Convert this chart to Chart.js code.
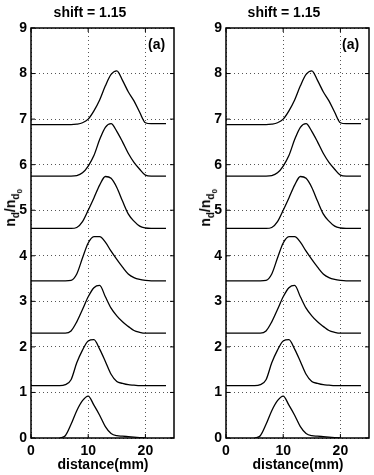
<!DOCTYPE html>
<html lang="en">
<head>
    <meta charset="UTF-8">
    <title>shift = 1.15</title>
    <script src="https://cdn.jsdelivr.net/npm/chart.js"></script>
    <style>
        body {
            margin: 0;
            width: 374px;
            height: 475px;
            background: #fff;
            position: relative;
            overflow: hidden;
            font-family: "Liberation Sans", Arial, sans-serif;
            font-weight: bold;
            color: #000;
        }
        .panel {
            position: absolute;
            top: 0;
            height: 475px;
        }
        .title {
            position: absolute;
            top: 4px;
            font-size: 14px;
            width: 120px;
            text-align: center;
        }
        .tag {
            position: absolute;
            top: 36px;
            font-size: 14px;
        }
        .ylab {
            position: absolute;
            font-size: 14px;
            transform: rotate(-90deg);
            transform-origin: center center;
            white-space: nowrap;
            width: 60px;
            text-align: center;
        }
        .ylab sub { font-size: 10px; }
        .ylab sub sub { font-size: 8px; }
        .xlab {
            position: absolute;
            top: 456px;
            font-size: 14px;
            width: 120px;
            text-align: center;
        }
    </style>
</head>
<body>
    <div class="panel" style="left:0;width:187px"><canvas id="left"></canvas></div>
    <div class="panel" style="left:195px;width:179px"><canvas id="right"></canvas></div>

    <div class="title" style="left:30px">shift = 1.15</div>
    <div class="title" style="left:224px">shift = 1.15</div>
    <div class="tag" style="left:148px">(a)</div>
    <div class="tag" style="left:342px">(a)</div>
    <div class="ylab" style="left:-17px;top:197px">n<sub>d</sub>/n<sub>d<sub>0</sub></sub></div>
    <div class="ylab" style="left:178px;top:197px">n<sub>d</sub>/n<sub>d<sub>0</sub></sub></div>
    <div class="xlab" style="left:43px">distance(mm)</div>
    <div class="xlab" style="left:238px">distance(mm)</div>

    <script>
        // distance (mm) and the seven offset profiles (shift = 1.15)
        const dist   = [0, 5, 6, 7, 8, 9, 10, 11, 12, 13, 14, 15, 16, 17, 18, 19, 20, 21, 23.6];
        const curve0 = [null, 0, 0.05, 0.3, 0.6, 0.82, 0.92, 0.72, 0.5, 0.25, 0.1, 0.05, 0.04, 0.03, 0.02, 0.01, 0, null, null];
        const curve1 = [1.15, 1.15, 1.17, 1.28, 1.65, 1.93, 2.13, 2.16, 1.95, 1.68, 1.4, 1.24, 1.2, 1.17, 1.16, 1.15, 1.15, 1.15, 1.15];
        const curve2 = [2.3, 2.3, 2.3, 2.35, 2.55, 2.82, 3.1, 3.3, 3.35, 3.1, 2.85, 2.68, 2.55, 2.45, 2.36, 2.32, 2.3, 2.3, 2.3];
        const curve3 = [3.45, 3.45, 3.45, 3.46, 3.6, 3.95, 4.28, 4.42, 4.42, 4.3, 4.1, 3.92, 3.75, 3.6, 3.52, 3.48, 3.46, 3.45, 3.45];
        const curve4 = [4.6, 4.6, 4.6, 4.6, 4.62, 4.75, 5.0, 5.27, 5.55, 5.74, 5.7, 5.5, 5.2, 4.92, 4.76, 4.65, 4.61, 4.6, 4.6];
        const curve5 = [5.75, 5.75, 5.75, 5.75, 5.76, 5.82, 5.97, 6.2, 6.55, 6.82, 6.9, 6.73, 6.5, 6.25, 6.05, 5.9, 5.77, 5.75, 5.75];
        const curve6 = [6.88, 6.88, 6.88, 6.88, 6.89, 6.92, 7.0, 7.18, 7.42, 7.73, 7.98, 8.06, 7.85, 7.6, 7.4, 7.15, 6.92, 6.9, 6.9];
        const curves = [curve0, curve1, curve2, curve3, curve4, curve5, curve6];

        const xTicks = [0, 10, 20];
        const yTicks = [0, 1, 2, 3, 4, 5, 6, 7, 8, 9];

        const tickFont = { family: '"Liberation Sans", Arial, sans-serif', size: 14, weight: 'bold' };

        // black box round the plot area with short inward ticks, matlab style
        const boxPlugin = {
            id: 'box',
            afterDraw(chart) {
                const a = chart.chartArea;
                const ctx = chart.ctx;
                const len = 4;
                ctx.save();
                ctx.strokeStyle = '#000';
                ctx.lineWidth = 1;
                ctx.beginPath();
                chart.scales.x.ticks.forEach(t => {
                    const px = chart.scales.x.getPixelForValue(t.value);
                    ctx.moveTo(px, a.bottom); ctx.lineTo(px, a.bottom - len);
                    ctx.moveTo(px, a.top); ctx.lineTo(px, a.top + len);
                });
                chart.scales.y.ticks.forEach(t => {
                    const py = chart.scales.y.getPixelForValue(t.value);
                    ctx.moveTo(a.left, py); ctx.lineTo(a.left + len, py);
                    ctx.moveTo(a.right, py); ctx.lineTo(a.right - len, py);
                });
                ctx.stroke();
                ctx.lineWidth = 1.5;
                ctx.strokeRect(a.left, a.top, a.right - a.left, a.bottom - a.top);
                ctx.restore();
            }
        };

        function makeChart(id, rightPad) {
            const ctx = document.getElementById(id).getContext('2d');
            return new Chart(ctx, {
                type: 'line',
                data: {
                    datasets: curves.map(c => ({
                        data: dist.map((d, i) => ({ x: d, y: c[i] })),
                        borderColor: '#000',
                        borderWidth: 1.3,
                        pointRadius: 0,
                        fill: false,
                        cubicInterpolationMode: 'monotone',
                        spanGaps: false
                    }))
                },
                options: {
                    responsive: true,
                    maintainAspectRatio: false,
                    animation: false,
                    layout: { padding: { top: 28, right: rightPad, bottom: 0, left: 0 } },
                    plugins: {
                        legend: { display: false },
                        tooltip: { enabled: false }
                    },
                    scales: {
                        x: {
                            type: 'linear',
                            min: 0,
                            max: 25,
                            afterBuildTicks: s => { s.ticks = xTicks.map(v => ({ value: v })); },
                            afterFit: s => { s.height = 37; },
                            border: { display: false, dash: [1, 3] },
                            grid: { color: '#555', lineWidth: 1, drawTicks: false },
                            ticks: { color: '#000', font: tickFont, padding: 5, maxRotation: 0 }
                        },
                        y: {
                            min: 0,
                            max: 9,
                            afterBuildTicks: s => { s.ticks = yTicks.map(v => ({ value: v })); },
                            afterFit: s => { s.width = 31; },
                            border: { display: false, dash: [1, 3] },
                            grid: { color: '#555', lineWidth: 1, drawTicks: false },
                            ticks: { color: '#000', font: tickFont, padding: 4 }
                        }
                    }
                },
                plugins: [boxPlugin]
            });
        }

        makeChart('left', 13);
        makeChart('right', 5);
    </script>
</body>
</html>
